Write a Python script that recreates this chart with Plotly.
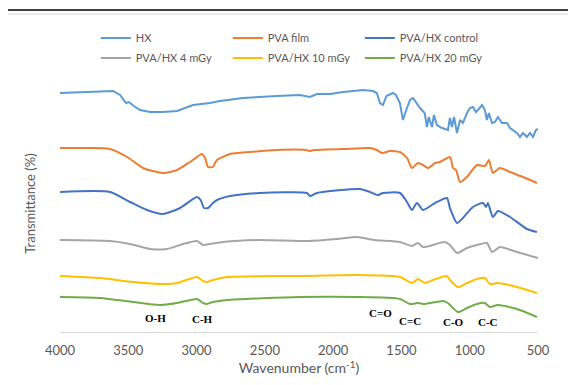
import plotly.graph_objects as go

# ---------------- data (wavenumber cm-1, relative transmittance) ----------------
hx_wn = [4000, 3800, 3612, 3560, 3546, 3517, 3495, 3460, 3414, 3341, 3246, 3143, 3026, 2953, 2902, 2829,
         2660, 2411, 2243, 2170, 2118, 2023, 1928, 1781, 1708, 1680, 1657, 1635, 1610, 1562, 1540, 1511,
         1489, 1470, 1437, 1415, 1390, 1364, 1330, 1313, 1300, 1276, 1262, 1240, 1203, 1159, 1145, 1130,
         1115, 1093, 1071, 1050, 1020, 998, 976, 954, 940, 910, 889, 874, 860, 837, 815, 793, 764, 727,
         705, 683, 654, 632, 610, 581, 559, 537, 515, 500]
hx_t = [239, 240, 241, 237, 234, 229, 230, 226, 222, 220, 220, 221, 227, 228, 229, 231,
        234, 236, 237, 235, 238, 238, 240, 242, 241, 239, 229, 227, 236, 239, 237, 229,
        212, 220, 232, 234, 229, 224, 219, 205, 215, 205, 217, 207, 204, 202, 214, 205,
        215, 199, 212, 209, 219, 224, 225, 220, 222, 227, 222, 212, 219, 209, 210, 215, 209, 209,
        204, 202, 199, 195, 199, 195, 199, 195, 202, 203]

pva_wn = [4000, 3800, 3634, 3509, 3392, 3246, 3143, 3048, 2960, 2938, 2916, 2880, 2865, 2850, 2755, 2609,
          2411, 2200, 2170, 2140, 1928, 1730, 1680, 1657, 1635, 1584, 1511, 1459, 1423, 1379, 1342, 1305,
          1254, 1218, 1145, 1135, 1123, 1100, 1071, 1020, 947, 889, 859, 845, 830, 779, 705, 610, 508]
pva_t = [184, 184, 183, 175, 164, 159, 162, 170, 178, 174, 165, 165, 169, 172, 178, 180,
         182, 182, 181, 182, 183, 184, 182, 180, 179, 181, 180, 174, 164, 169, 167, 164,
         169, 170, 175, 172, 164, 162, 150, 155, 167, 166, 172, 165, 159, 164, 160, 155, 149]

ctl_wn = [4000, 3634, 3487, 3363, 3246, 3121, 2997, 2970, 2946, 2916, 2880, 2850, 2755, 2536, 2192, 2170,
          2118, 1803, 1730, 1672, 1635, 1511, 1459, 1423, 1386, 1342, 1254, 1167, 1145, 1093, 1050, 976,
          903, 880, 867, 830, 793, 705, 581, 508]
ctl_t = [140, 140, 130, 122, 118, 124, 135, 132, 124, 124, 129, 132, 136, 139, 139, 136,
         139, 143, 140, 137, 139, 139, 130, 122, 129, 122, 129, 134, 124, 109, 114, 125,
         129, 125, 129, 115, 121, 115, 103, 100]

g4_wn = [4000, 3634, 3487, 3341, 3217, 3099, 2997, 2953, 2902, 2806, 2536, 2184, 1972, 1825, 1700, 1511,
         1423, 1379, 1342, 1181, 1145, 1093, 1020, 947, 874, 837, 779, 654, 500]
g4_t = [92, 91, 88, 83, 83, 88, 91, 87, 88, 90, 92, 91, 93, 95, 92, 90,
        86, 89, 85, 90, 87, 79, 84, 87, 89, 80, 85, 80, 74]

g10_wn = [4000, 3707, 3465, 3246, 3143, 2997, 2953, 2924, 2880, 2777, 2243, 1825, 1511, 1423, 1379, 1328,
          1269, 1167, 1145, 1086, 1020, 947, 889, 852, 793, 654, 508]
g10_t = [56, 54, 50, 48, 49, 55, 51, 50, 52, 55, 56, 57, 55, 49, 53, 49,
         52, 56, 52, 45, 49, 53, 54, 48, 49, 45, 39]

g20_wn = [4000, 3707, 3465, 3268, 3143, 2997, 2953, 2924, 2880, 2777, 2243, 1825, 1511, 1437, 1379, 1328,
          1196, 1160, 1086, 1020, 947, 889, 852, 793, 654, 508]
g20_t = [35, 34, 30, 27, 29, 33, 29, 28, 30, 32, 35, 35, 33, 28, 29, 28,
         31, 29, 20, 24, 28, 29, 25, 27, 23, 15]

names = ["HX", "PVA film", "PVA/HX control", "PVA/HX 4 mGy", "PVA/HX 10 mGy", "PVA/HX 20 mGy"]
colors = ["#5B9BD5", "#ED7D31", "#4472C4", "#A5A5A5", "#FFC000", "#70AD47"]
series = [(hx_wn, hx_t), (pva_wn, pva_t), (ctl_wn, ctl_t), (g4_wn, g4_t), (g10_wn, g10_t), (g20_wn, g20_t)]

x_ticks = [4000, 3500, 3000, 2500, 2000, 1500, 1000, 500]

band_labels = ["O-H", "C-H", "C=O", "C=C", "C-O", "C-C"]
band_x = [3300, 2960, 1650, 1440, 1120, 865]
band_y = [14, 13, 19, 11, 10, 10]

# ---------------- figure ----------------
fig = go.Figure()
for i, ((wn, t), name, col) in enumerate(zip(series, names, colors)):
    fig.add_trace(go.Scatter(
        x=wn, y=t, mode="lines", name=name,
        line=dict(color=col, width=2, shape="linear" if i == 0 else "spline", smoothing=0.6),
        legend="legend" if i < 3 else "legend2",
    ))

for lab, bx, by in zip(band_labels, band_x, band_y):
    fig.add_annotation(x=bx, y=by, text="<b>" + lab + "</b>", showarrow=False,
                       font=dict(family="Liberation Serif", size=11, color="#000000"))

font_main = "Lato, Liberation Sans, sans-serif"
legend_common = dict(orientation="h", xanchor="left", yanchor="middle",
                     font=dict(family=font_main, size=11, color="#595959"),
                     entrywidth=87, entrywidthmode="pixels", bgcolor="rgba(0,0,0,0)",
                     itemwidth=30, tracegroupgap=0)

fig.update_layout(
    width=576, height=385,
    margin=dict(l=52, r=46, t=67, b=61),
    paper_bgcolor="white", plot_bgcolor="white",
    font=dict(family=font_main, color="#595959"),
    legend=dict(x=0.075, y=1.144, **legend_common),
    legend2=dict(x=0.075, y=1.066, **legend_common),
    xaxis=dict(range=[4000, 500], tickvals=x_ticks, ticks="", showgrid=False, zeroline=False,
               showline=True, linecolor="#D9D9D9", linewidth=1, ticklabelstandoff=6,
               tickfont=dict(family=font_main, size=13, color="#595959"),
               title=dict(text="Wavenumber (cm<sup>-1</sup>)", standoff=4,
                          font=dict(family=font_main, size=14, color="#595959"))),
    yaxis=dict(range=[0, 257], showticklabels=False, ticks="", showgrid=False, zeroline=False,
               showline=False,
               title=dict(text="Transmittance (%)", standoff=20,
                          font=dict(family=font_main, size=13, color="#595959"))),
    shapes=[
        dict(type="line", xref="paper", yref="paper", x0=-0.13, x1=1.08, y0=1.253, y1=1.253,
             line=dict(color="#404040", width=2)),
        dict(type="rect", xref="paper", yref="paper", x0=-0.111, x1=1.073, y0=-0.25, y1=1.237,
             line=dict(color="#D9D9D9", width=1)),
    ],
)

fig.write_html("out.html")
